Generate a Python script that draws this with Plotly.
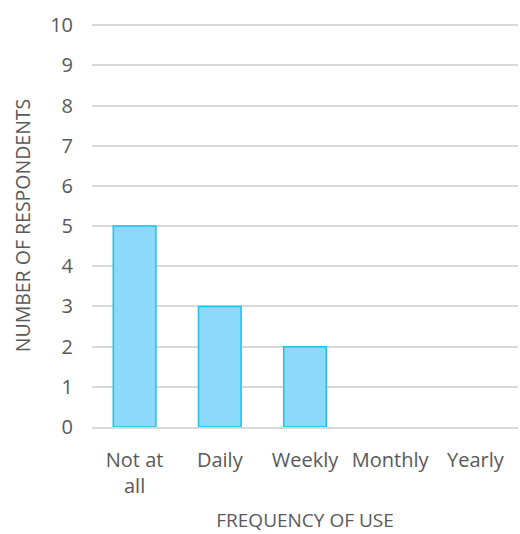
import plotly.graph_objects as go

categories = ["Not at<br>all", "Daily", "Weekly", "Monthly", "Yearly"]
values = [5, 3, 2, 0, 0]
y_ticks = list(range(0, 11))

line_widths = [1.5 if v > 0 else 0 for v in values]

fig = go.Figure()
fig.add_trace(go.Bar(
    x=categories, y=values,
    marker=dict(color="#8cdafb", line=dict(color="#1ec0ee", width=line_widths)),
    width=0.5,
))
font = dict(family="Open Sans, Liberation Sans, sans-serif", size=20, color="#595959")
fig.update_layout(
    width=520, height=534,
    margin=dict(l=92, r=2, t=24, b=107),
    plot_bgcolor="white", paper_bgcolor="white",
    font=font,
    showlegend=False,
    xaxis=dict(
        title=dict(text="FREQUENCY OF USE", font=dict(size=19, color="#595959"), standoff=16),
        showgrid=False, showline=True, linecolor="#d9d9d9", linewidth=1.5,
        ticks="", tickfont=dict(size=20), ticklabelstandoff=14,
    ),
    yaxis=dict(
        title=dict(text="NUMBER OF RESPONDENTS", font=dict(size=19.5, color="#595959"), standoff=14),
        range=[0, 10.03], tickvals=y_ticks, showgrid=True, gridcolor="#d9d9d9", gridwidth=1.5,
        zeroline=False, ticks="", tickfont=dict(size=20), ticklabelstandoff=18,
    ),
)
fig.write_html("out.html")
